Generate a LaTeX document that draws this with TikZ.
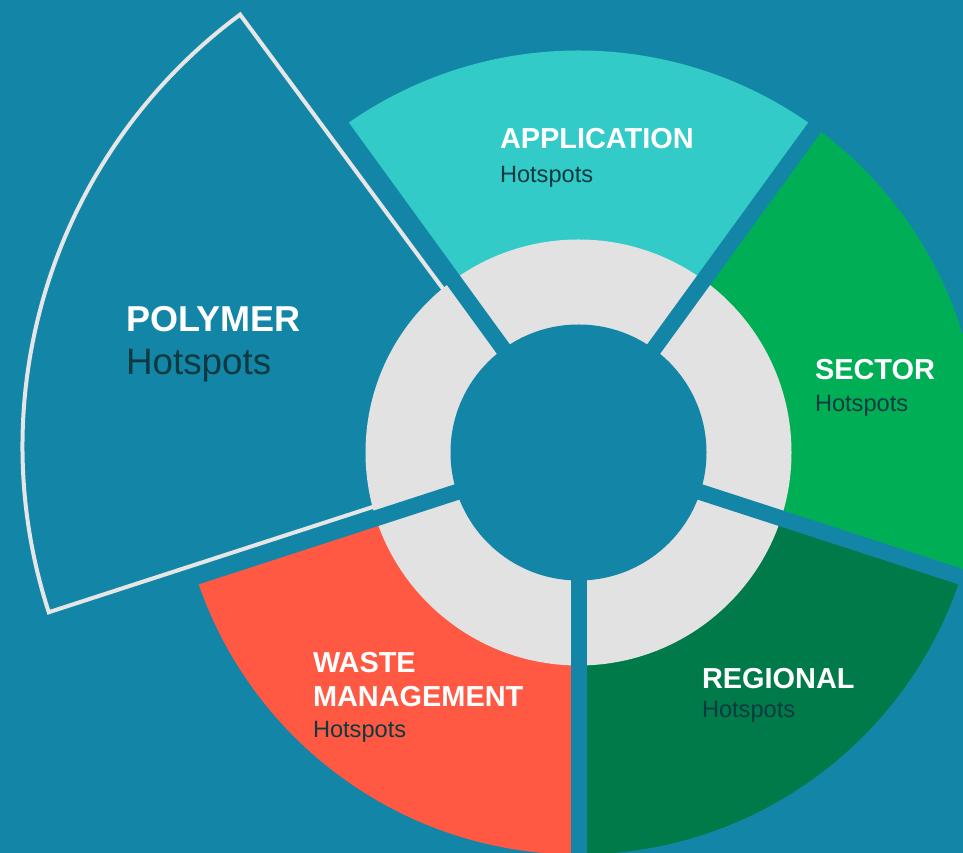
\documentclass[tikz,border=0pt]{standalone}
\usepackage{fontspec}
\setmainfont{Liberation Sans}
\definecolor{bg}{HTML}{1386A8}
\definecolor{appc}{HTML}{33CBC8}
\definecolor{secc}{HTML}{00AF55}
\definecolor{regc}{HTML}{007A48}
\definecolor{wastec}{HTML}{FF5843}
\definecolor{ringc}{HTML}{E2E2E2}
\definecolor{polyline}{HTML}{E6E6E6}
\definecolor{darktext}{HTML}{0D3A40}
\tikzset{
  segtitle/.style={anchor=base west, inner sep=0pt, outer sep=0pt, text=white, font=\bfseries\fontsize{28.9}{30}\selectfont},
  segsub/.style={anchor=base west, inner sep=0pt, outer sep=0pt, text=darktext, font=\fontsize{23.6}{25}\selectfont},
  gapline/.style={draw=bg, line width=16pt},
  polyoutline/.style={draw=polyline, line width=4pt, line join=miter}
}
\begin{document}
\begin{tikzpicture}[x=1pt,y=1pt]
\useasboundingbox (0,0) rectangle (963,853);
\fill[bg] (0,0) rectangle (963,853);
\coordinate (C) at (578.5,400.5);
\coordinate (P) at (559.5,406.7);
% coloured segments
\fill[appc] (C) -- ++(54:402) arc[start angle=54,end angle=126,radius=402] -- cycle;
\fill[secc] (C) -- ++(-18:402) arc[start angle=-18,end angle=54,radius=402] -- cycle;
\fill[regc] (C) -- ++(-90:402) arc[start angle=-90,end angle=-18,radius=402] -- cycle;
\fill[wastec] (C) -- ++(198:402) arc[start angle=198,end angle=270,radius=402] -- cycle;
% exploded polymer segment
\draw[polyoutline] (P) -- ++(126.5:537) arc[start angle=126.5,end angle=198,radius=537] -- cycle;
% grey ring
\fill[ringc] (C) circle[radius=213];
% gaps
\foreach \a in {-90,-18,54,126,198} \draw[gapline] (C) -- ++(\a:420);
% inner disc
\fill[bg] (C) circle[radius=128];
% labels
\node[segtitle] (apptitle) at (500,704) {APPLICATION};
\node[segsub] (appsub) at (500,670) {Hotspots};
\node[segtitle] (sectitle) at (815,473) {SECTOR};
\node[segsub] (secsub) at (815,441) {Hotspots};
\node[segtitle] (regtitle) at (702,164) {REGIONAL};
\node[segsub] (regsub) at (702,135) {Hotspots};
\node[segtitle] (wastetitlea) at (313,180) {WASTE};
\node[segtitle] (wastetitleb) at (313,146) {MANAGEMENT};
\node[segsub] (wastesub) at (313,115) {Hotspots};
\node[segtitle, font=\bfseries\fontsize{36}{37}\selectfont] (polytitle) at (126,521) {POLYMER};
\node[segsub, font=\fontsize{36.8}{38}\selectfont] (polysub) at (126,478) {Hotspots};
\end{tikzpicture}
\end{document}
